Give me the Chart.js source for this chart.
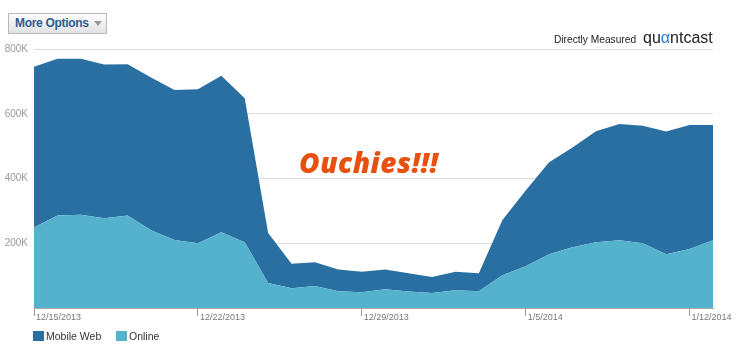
<!DOCTYPE html>
<html>
<head>
<meta charset="utf-8">
<script src="https://cdn.jsdelivr.net/npm/chart.js@4"></script>
<style>
  html, body { margin: 0; padding: 0; background: #fff; }
  #wrap { position: relative; width: 738px; height: 354px; overflow: hidden; font-family: "Liberation Sans", Arial, sans-serif; }
  #chart { position: absolute; left: 0; top: 0; }
  .btn {
    position: absolute; left: 8px; top: 13px; width: 91px; height: 19px;
    border: 1px solid #b9b9b9; background: linear-gradient(#fdfdfd, #e2e2e2);
    font: bold 12px "Liberation Sans", Arial, sans-serif; color: #2c5d8f;
    line-height: 19px; padding-left: 6px; box-sizing: content-box; letter-spacing: -0.3px;
  }
  .btn .tri {
    position: absolute; right: 4px; top: 7px; width: 0; height: 0;
    border-left: 4px solid transparent; border-right: 4px solid transparent; border-top: 5px solid #999;
  }
  .measured { position: absolute; left: 554px; top: 34px; font-size: 10.2px; color: #222; }
  .logo { position: absolute; left: 643px; top: 29px; font: 16px "Liberation Sans", Arial, sans-serif; color: #222; }
  .logo span { color: #2b7bd4; }
  .ouch { position: absolute; left: 299px; top: 143px; font: italic 800 28px "Open Sans", Lato, sans-serif; color: #e8500f; letter-spacing: 0.5px; }
  .legend { position: absolute; left: 33px; top: 330px; font-size: 10.5px; color: #333; }
  .legend .item { position: absolute; top: 0; white-space: nowrap; }
  .legend .box { display: inline-block; width: 11px; height: 10px; vertical-align: -1px; margin-right: 2px; }
</style>
</head>
<body>
<div id="wrap">
  <canvas id="chart" width="738" height="354"></canvas>
  <div class="btn">More Options<div class="tri"></div></div>
  <div class="measured">Directly Measured</div>
  <div class="logo">qu<span>α</span>ntcast</div>
  <div class="ouch">Ouchies!!!</div>
  <div class="legend" id="legend"></div>
</div>
<script>
// dates, one point per day
const dates = [
  "12/15/2013", "12/16/2013", "12/17/2013", "12/18/2013", "12/19/2013", "12/20/2013", "12/21/2013",
  "12/22/2013", "12/23/2013", "12/24/2013", "12/25/2013", "12/26/2013", "12/27/2013", "12/28/2013",
  "12/29/2013", "12/30/2013", "12/31/2013", "1/1/2014", "1/2/2014", "1/3/2014", "1/4/2014",
  "1/5/2014", "1/6/2014", "1/7/2014", "1/8/2014", "1/9/2014", "1/10/2014", "1/11/2014",
  "1/12/2014", "1/13/2014",
];

// Online audience (bottom layer)
const online = [
  249000, 286000, 288000, 277000, 286000, 240000, 210000, 200000, 234000, 203000,
  77000, 61000, 68000, 52000, 49000, 58000, 51000, 46000, 55000, 52000,
  101000, 129000, 166000, 188000, 203000, 209000, 200000, 166000, 182000, 209000,
];

// Mobile Web + Online total (top edge of the stack)
const total = [
  745000, 770000, 770000, 752000, 753000, 712000, 673000, 676000, 717000, 648000,
  232000, 137000, 141000, 119000, 112000, 119000, 107000, 96000, 112000, 107000,
  271000, 363000, 450000, 496000, 546000, 568000, 563000, 545000, 565000, 565000,
];
const mobileWeb = total.map((t, i) => t - online[i]);

const yTicks = [0, 200000, 400000, 600000, 800000];
const labelEvery = 7;

const colors = { mobile: "#2a6fa1", online: "#55b2cd" };

/* ============================
   LEGEND (html)
============================ */
const legendItems = [
  { label: "Mobile Web", color: colors.mobile, left: 0 },
  { label: "Online", color: colors.online, left: 83 },
];
document.getElementById("legend").innerHTML = legendItems
  .map((it) => `<div class="item" style="left:${it.left}px"><span class="box" style="background:${it.color}"></span>${it.label}</div>`)
  .join("");

/* ============================
   CHART
============================ */
const ctx = document.getElementById("chart").getContext("2d");

new Chart(ctx, {
  type: "line",
  data: {
    labels: dates,
    datasets: [
      {
        label: "Online",
        data: online,
        backgroundColor: colors.online,
        borderWidth: 0,
        pointRadius: 0,
        fill: "origin",
        tension: 0,
      },
      {
        label: "Mobile Web",
        data: mobileWeb,
        backgroundColor: colors.mobile,
        borderWidth: 0,
        pointRadius: 0,
        fill: "-1",
        tension: 0,
      },
    ],
  },
  options: {
    responsive: false,
    animation: false,
    layout: { padding: { left: 0, right: 25, top: 49, bottom: 0 } },
    plugins: { legend: { display: false }, tooltip: { enabled: false } },
    scales: {
      x: {
        z: 1,
        offset: false,
        grid: {
          drawOnChartArea: false,
          tickLength: 8,
          color: (c) => (c.index % labelEvery === 0 ? "#999" : "rgba(0,0,0,0)"),
        },
        border: { color: "#aaa" },
        ticks: {
          autoSkip: false,
          maxRotation: 0,
          align: "start",
          labelOffset: 2,
          padding: -4,
          color: "#777",
          font: { family: "Liberation Sans", size: 9 },
          callback: (v, i) => (i % labelEvery === 0 ? dates[i] : ""),
        },
        afterFit: (s) => { s.height = 46; },
      },
      y: {
        z: 1,
        stacked: true,
        min: 0,
        max: 800000,
        afterBuildTicks: (s) => { s.ticks = yTicks.map((v) => ({ value: v })); },
        grid: { drawTicks: false, color: "rgba(0,0,0,0.13)" },
        border: { display: false },
        ticks: {
          padding: 6,
          color: "#999",
          font: { family: "Liberation Sans", size: 10 },
          callback: (v) => (v === 0 ? "" : v / 1000 + "K"),
        },
        afterFit: (s) => { s.width = 34; },
      },
    },
  },
});
</script>
</body>
</html>
